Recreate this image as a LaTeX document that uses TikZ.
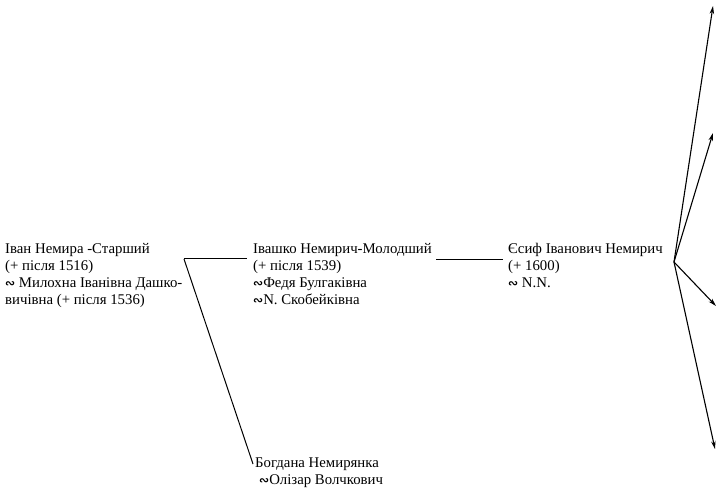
\documentclass[tikz,border=0pt]{standalone}
\usepackage{fontspec}
\setmainfont{Liberation Serif}
\newfontfamily\symfont{DejaVu Sans}
\usetikzlibrary{arrows.meta}
\tikzstyle{person} = [anchor=north west, align=left, inner sep=0pt, font=\fontsize{14.8}{17}\selectfont]
\tikzstyle{link} = [line width=1pt]
\tikzstyle{arrow} = [->,>={Stealth[length=8pt,width=4.5pt]}, line width=1.1pt]
\newcommand{\wed}{{\symfont\bfseries\fontsize{12}{12}\selectfont ∾}}

\begin{document}
\begin{tikzpicture}[x=1pt,y=-1pt]
\useasboundingbox (0,0) rectangle (718,494);
% особи
\node[person] (ivan) at (5,243) {Іван Немира -Старший\\(+ після 1516)\\\wed{} Милохна Іванівна Дашко-\\вичівна (+ після 1536)};
\node[person] (ivashko) at (253,243) {Івашко Немирич-Молодший\\(+ після 1539)\\\wed{}Федя Булгаківна\\\wed{}N. Скобейківна};
\node[person] (yesyf) at (508,243) {Єсиф Іванович Немирич\\(+ 1600)\\\wed{} N.N.};
\node[person] (bohdana) at (255,458) {Богдана Немирянка\\\hspace{4pt}\wed{}Олізар Волчкович};
% точки розгалуження
\coordinate (fork1) at (184,259);
\coordinate (fork2) at (436,260);
\coordinate (fan) at (674,262);
\coordinate (k1) at (713,6);
\coordinate (k2) at (713,133);
\coordinate (k3) at (716,306);
\coordinate (k4) at (715,449);
% лінії
\draw[link] (fork1) -- ([xshift=-6pt]ivashko.west |- fork1);
\draw[link] (fork1) -- ([xshift=-2pt,yshift=-6pt]bohdana.north west);
\draw[link] (fork2) -- ([xshift=-5pt]yesyf.west |- fork2);
\draw[arrow] (fan) -- (k1);
\draw[arrow] (fan) -- (k2);
\draw[arrow] (fan) -- (k3);
\draw[arrow] (fan) -- (k4);
\end{tikzpicture}
\end{document}
